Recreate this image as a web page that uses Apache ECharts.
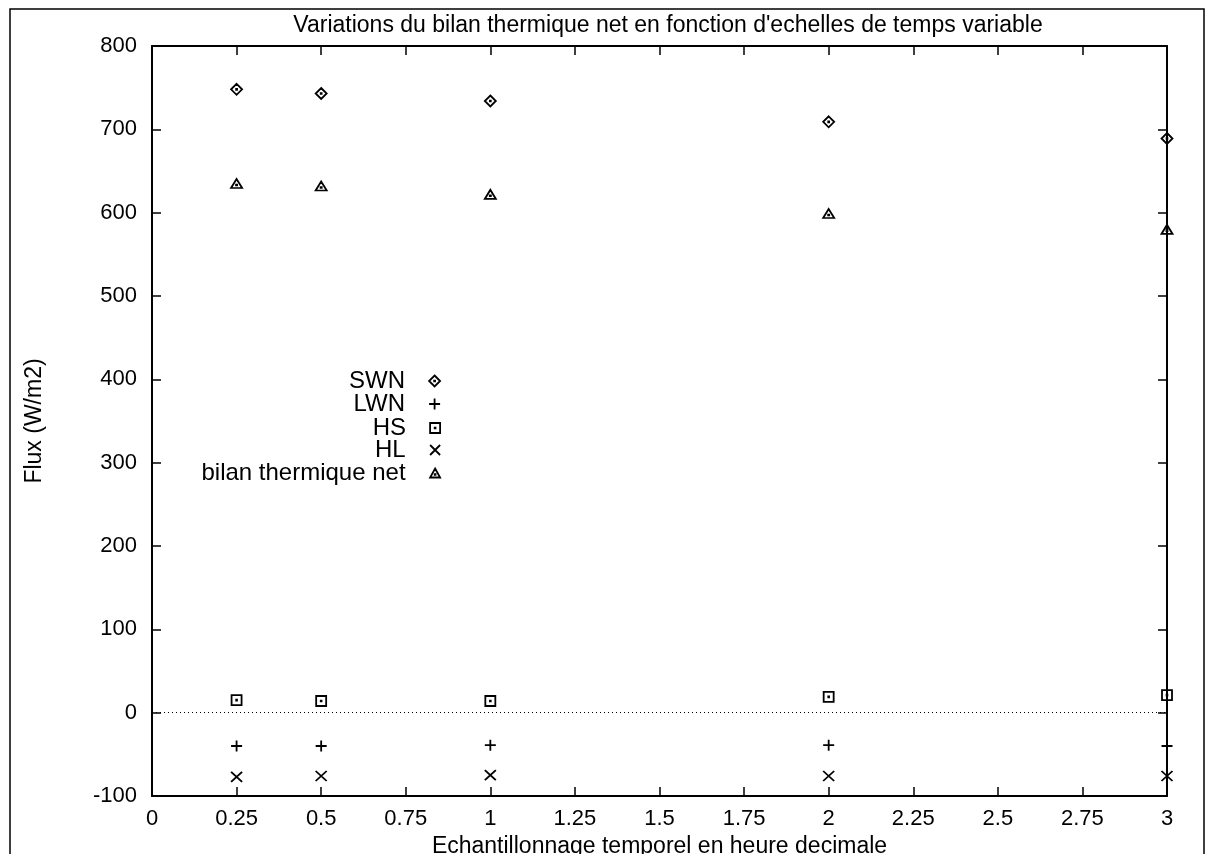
<!DOCTYPE html>
<html>
<head>
<meta charset="utf-8">
<script src="https://cdn.jsdelivr.net/npm/echarts@6/dist/echarts.min.js"></script>
<style>html,body{margin:0;padding:0;background:#fff;}#c{width:1207px;height:854px;}</style>
</head>
<body>
<div id="c"></div>
<script>
const xValues = [0.25, 0.5, 1, 2, 3];
const swn = [748, 743, 734, 709, 689];
const lwn = [-40, -40, -39, -39, -40];
const hs = [15, 14, 14, 19, 21];
const hl = [-77, -76, -75, -76, -76];
const bilan = [635, 632, 622, 599, 580];
const zeroLine = 0;
const seriesNames = ['SWN', 'LWN', 'HS', 'HL', 'bilan thermique net'];
const xTicks = [0, 0.25, 0.5, 0.75, 1, 1.25, 1.5, 1.75, 2, 2.25, 2.5, 2.75, 3];
const yTicks = [-100, 0, 100, 200, 300, 400, 500, 600, 700, 800];

const FONT = '"Liberation Sans", Arial, Helvetica, sans-serif';
const FS = 22;
const sym = {
  SWN: 'path://M5,0L10,5L5,10L0,5Z M4.6,4.6h0.8v0.8h-0.8Z',
  LWN: 'path://M0,5H10M5,0V10',
  HS: 'path://M0,0H10V10H0Z M4.6,4.6h0.8v0.8h-0.8Z',
  HL: 'path://M0,0L10,10M10,0L0,10',
  'bilan thermique net': 'path://M5,0L10,9H0Z M4.6,5.6h0.8v0.8h-0.8Z'
};
const sizes = {SWN: [11, 11], LWN: [11, 11], HS: [10, 10], HL: [11, 10], 'bilan thermique net': [11, 9]};
const values = [swn, lwn, hs, hl, bilan];

const chart = echarts.init(document.getElementById('c'), null, {renderer: 'canvas'});

const markStyle = {color: 'rgba(255,255,255,0)', borderColor: '#000', borderWidth: 1.8, opacity: 1};

const series = seriesNames.map((name, i) => ({
  name: name,
  type: 'scatter',
  data: xValues.map((x, j) => [x, values[i][j]]),
  symbol: sym[name],
  symbolSize: sizes[name],
  clip: false,
  itemStyle: markStyle,
  emphasis: {disabled: true},
  z: 5
}));
series[0].markLine = {
  silent: true,
  symbol: 'none',
  label: {show: false},
  lineStyle: {color: '#000', type: [1, 3], width: 1},
  data: [{yAxis: zeroLine}]
};

const legendRightX = 441;
const legendRows = [381, 404, 428, 450, 473];
const legends = seriesNames.map((name, i) => ({
  data: [{name: name, icon: sym[name]}],
  right: 1207 - legendRightX,
  top: legendRows[i] - 12,
  align: 'right',
  orient: 'vertical',
  itemWidth: sizes[name][0],
  itemHeight: sizes[name][1],
  selectedMode: false,
  padding: 0,
  textStyle: {fontFamily: FONT, fontSize: 24, color: '#000', padding: [0, 19, 0, 0], lineHeight: 24},
  itemStyle: markStyle
}));

const axisCommon = {
  axisLine: {show: true, onZero: false, lineStyle: {color: '#000', width: 2}},
  axisTick: {show: true, inside: true, length: 9, lineStyle: {color: '#000', width: 1.5}},
  splitLine: {show: false}
};

chart.setOption({
  animation: false,
  backgroundColor: '#fff',
  title: {
    text: "Variations du bilan thermique net en fonction d'echelles de temps variable",
    left: 663, textAlign: 'center', top: 9,
    textStyle: {fontFamily: FONT, fontSize: 23, fontWeight: 'normal', color: '#000'}
  },
  legend: legends,
  grid: {left: 152, right: 40, top: 46, bottom: 58, containLabel: false, outerBoundsMode: 'none'},
  xAxis: [
    Object.assign({}, axisCommon, {
      type: 'value', min: xTicks[0], max: xTicks[xTicks.length - 1], interval: 0.25, position: 'bottom',
      name: 'Echantillonnage temporel en heure decimale', nameLocation: 'middle', nameGap: 35,
      nameTextStyle: {fontFamily: FONT, fontSize: 23, color: '#000'},
      axisLabel: {fontFamily: FONT, fontSize: FS, color: '#000', margin: 12,
        formatter: v => String(v)}
    }),
    Object.assign({}, axisCommon, {
      type: 'value', min: xTicks[0], max: xTicks[xTicks.length - 1], interval: 0.25, position: 'top',
      axisLabel: {show: false}
    })
  ],
  yAxis: [
    Object.assign({}, axisCommon, {
      type: 'value', min: yTicks[0], max: yTicks[yTicks.length - 1], interval: 100, position: 'left',
      name: 'Flux (W/m2)', nameLocation: 'middle', nameGap: 106, nameRotate: 90,
      nameTextStyle: {fontFamily: FONT, fontSize: 23, color: '#000'},
      axisLabel: {fontFamily: FONT, fontSize: FS, color: '#000', margin: 15}
    }),
    Object.assign({}, axisCommon, {
      type: 'value', min: yTicks[0], max: yTicks[yTicks.length - 1], interval: 100, position: 'right',
      axisLabel: {show: false}
    })
  ],
  graphic: [{
    type: 'rect', shape: {x: 10, y: 9, width: 1194, height: 860},
    style: {fill: 'none', stroke: '#000', lineWidth: 1.5}, silent: true, z: 0
  }],
  series: series
});
</script>
</body>
</html>
